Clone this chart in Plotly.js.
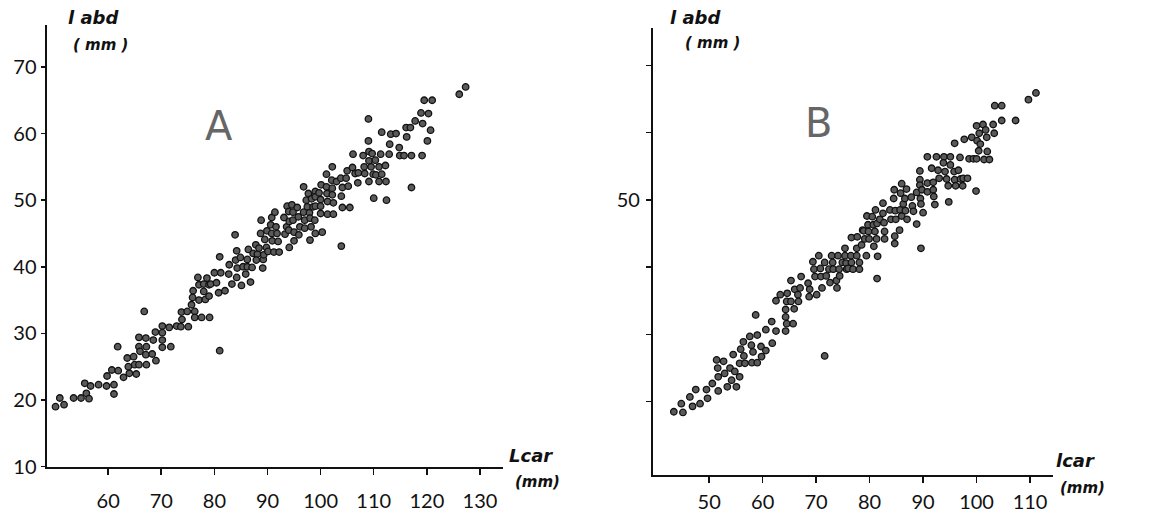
<!DOCTYPE html>
<html>
<head>
<meta charset="utf-8">
<script src="https://cdn.plot.ly/plotly-3.0.1.min.js"></script>
<style>html,body{margin:0;padding:0;background:#fff;}#chart{width:1150px;height:515px;}</style>
</head>
<body>
<div id="chart"></div>
<script>
// Panel A: Lcar (mm) vs labd (mm)
const aLcar = [50.1,50.9,51.7,53.5,54.9,55.6,55.9,56.4,56.7,58.2,59.7,59.8,61.1,61.1,60.7,61.8,61.9,62.9,63.6,63.8,
64.0,64.8,65.0,65.3,65.8,65.8,65.8,66.0,67.1,67.2,67.1,67.2,66.8,68.5,68.3,69.0,68.9,70.2,70.2,70.2,
70.2,71.5,71.8,72.9,73.7,73.9,73.8,74.9,75.1,75.7,75.9,76.0,76.3,76.3,76.9,77.1,77.1,77.6,78.0,78.0,
78.3,78.6,79.0,79.1,79.0,79.3,80.0,80.4,80.8,81.0,81.2,81.0,82.0,82.7,82.8,83.3,83.9,84.2,84.2,84.0,
84.3,84.9,85.1,85.4,85.9,86.2,86.4,86.2,86.8,87.1,87.3,87.8,88.1,87.9,88.4,88.8,88.7,89.1,89.2,89.3,
89.5,89.9,89.8,90.1,90.6,90.8,90.8,90.9,91.2,91.4,91.6,91.8,92.0,92.2,93.1,93.3,93.6,93.7,94.0,94.1,
94.0,94.1,94.6,94.8,94.8,95.0,95.0,95.6,95.8,95.9,96.1,96.8,96.8,97.0,97.0,97.3,97.5,97.7,97.9,98.0,
98.0,98.2,98.3,98.6,99.0,99.0,99.0,98.9,99.0,99.7,100.0,100.0,100.0,100.1,100.3,101.1,101.1,101.2,101.3,101.3,
102.2,102.1,102.2,102.2,102.4,102.4,103.0,103.8,103.9,104.1,104.1,103.9,104.8,105.0,105.2,105.5,106.1,106.0,106.5,107.0,
107.1,108.0,108.2,108.3,109.0,109.0,109.1,109.1,109.1,109.5,109.7,109.9,110.0,110.3,110.4,111.0,111.0,111.3,111.5,111.5,
112.2,112.3,112.4,112.9,113.0,113.2,114.2,114.8,114.9,115.7,116.1,116.2,116.9,117.1,117.1,117.8,118.9,119.1,119.2,119.5,
120.1,120.3,120.7,121.0,126.1,127.3];
const aLabd = [19.0,20.3,19.3,20.3,20.3,22.5,21.0,20.2,22.1,22.3,22.1,23.6,22.3,20.9,24.5,28.0,24.4,23.4,26.3,25.0,
24.0,26.5,25.3,23.9,25.3,28.0,29.4,27.3,29.3,28.0,26.8,25.3,33.3,29.0,26.9,25.9,30.2,31.1,30.1,29.0,
27.9,30.9,28.0,31.1,31.0,32.1,33.2,33.3,31.0,34.3,35.4,36.4,33.3,32.4,38.4,37.3,35.0,32.4,37.4,36.3,
35.1,38.3,37.3,32.4,35.6,37.4,39.1,37.6,36.1,41.5,39.1,27.4,36.4,38.9,40.3,37.4,44.8,38.4,42.4,41.0,
39.8,41.4,37.2,40.0,38.9,40.0,42.6,41.1,37.7,39.9,42.0,43.3,41.9,41.0,42.8,47.0,45.0,39.8,41.1,41.8,
44.1,45.4,42.9,42.3,46.3,47.4,45.0,43.9,42.2,48.2,46.0,45.0,43.8,42.2,47.4,44.9,46.0,49.1,48.3,46.8,
45.5,42.9,49.3,48.2,47.0,45.2,43.9,48.9,47.5,44.8,46.0,52.0,48.2,47.0,45.8,50.0,49.0,51.0,48.1,47.3,
44.0,46.0,50.2,49.0,51.3,50.5,49.1,47.0,45.0,51.1,50.1,49.1,48.0,52.3,45.2,53.9,52.0,51.0,49.8,47.9,
55.0,53.0,51.8,50.8,49.6,47.9,52.8,53.3,50.6,51.9,48.9,43.1,53.3,54.4,52.1,48.9,56.9,54.9,54.0,52.6,
54.1,56.7,55.0,54.0,58.9,62.2,57.3,55.9,52.8,55.0,57.0,53.9,50.3,56.0,53.8,55.0,52.8,56.9,53.9,60.2,
55.2,52.8,50.0,56.9,58.4,59.9,60.0,57.9,56.7,56.7,60.9,59.5,60.9,56.7,51.9,61.9,63.1,56.7,61.5,65.0,
58.9,63.0,60.5,65.0,65.9,67.0];

// Panel B: lcar (mm) vs labd (mm)
const bLcar = [43.4,44.8,45.1,46.4,46.9,47.5,48.3,49.5,49.7,50.6,51.4,51.6,51.7,51.7,52.7,52.9,53.4,53.9,54.2,54.5,
54.8,55.1,55.7,55.9,55.7,56.4,56.5,56.7,57.6,57.9,58.0,58.2,58.7,59.0,59.0,59.7,59.8,60.6,60.6,61.7,
61.8,62.5,62.5,63.3,64.3,64.3,64.3,64.5,64.5,64.6,65.3,65.3,65.7,65.9,66.0,66.6,66.7,67.0,67.2,68.5,
68.7,68.8,69.4,69.6,69.8,70.1,70.5,70.8,70.9,71.1,71.6,71.6,71.9,72.4,72.6,72.9,73.1,73.2,73.8,73.9,
74.1,74.3,74.4,74.9,75.4,75.4,75.6,75.7,76.0,76.5,76.6,76.6,76.9,77.6,77.6,77.7,78.1,78.1,78.5,78.7,
78.9,79.1,79.4,79.5,79.7,79.8,79.9,80.5,80.7,80.8,81.0,81.1,81.3,81.4,81.4,81.5,81.9,82.5,82.5,82.7,
82.8,82.8,83.8,84.0,84.6,84.5,84.7,84.7,84.8,84.9,85.6,85.7,85.8,86.0,86.0,86.3,86.6,86.7,86.9,87.0,
87.8,88.0,88.2,88.8,88.8,89.4,89.4,89.4,89.5,89.6,89.6,89.8,90.0,90.8,90.8,90.8,91.6,91.9,91.9,92.0,
92.2,92.5,92.8,93.0,93.9,93.8,94.1,94.4,94.7,94.8,95.1,95.1,95.8,95.9,96.1,96.6,96.9,97.0,97.4,97.5,
98.3,95.9,97.7,98.6,99.1,99.4,99.9,100.1,100.0,100.0,100.4,100.5,100.7,101.2,101.4,101.7,101.9,102.0,102.4,103.1,
103.3,103.4,104.7,104.7,107.3,109.7,111.1];
const bLabd = [18.5,19.7,18.4,20.7,19.3,21.8,19.7,21.8,20.5,22.7,26.2,25.0,23.7,21.6,26.0,24.2,22.2,25.0,23.2,27.0,
24.5,22.2,23.7,27.8,25.7,28.9,26.8,25.7,29.7,28.4,25.8,27.4,32.9,29.9,25.8,28.2,26.7,30.7,27.6,31.9,
28.7,35.0,30.5,35.9,33.7,32.6,30.5,34.9,31.6,36.1,38.0,34.9,31.6,33.8,36.7,35.9,34.9,36.9,38.6,37.6,
35.6,36.7,40.8,39.7,38.6,35.9,41.7,39.8,38.6,36.9,40.7,26.8,38.7,39.7,37.7,41.7,40.7,39.7,38.0,36.9,
41.7,39.7,38.7,40.7,42.8,41.7,40.6,39.7,39.8,41.7,40.7,44.4,39.7,41.7,42.8,44.5,40.7,39.7,43.3,45.5,
45.4,44.2,41.7,47.6,46.3,45.3,44.2,47.5,46.3,43.1,45.3,48.5,44.2,38.3,46.5,41.6,47.1,49.5,48.0,46.6,
45.3,44.2,48.5,47.1,51.5,50.2,44.6,43.5,48.4,47.1,45.5,48.5,51.0,52.4,47.6,49.4,50.2,48.4,51.6,47.1,
50.4,49.1,48.3,46.4,51.1,54.3,53.0,52.2,50.2,49.4,42.8,51.5,48.1,56.4,52.5,51.2,54.7,52.6,51.5,50.5,
49.3,56.4,54.4,53.2,56.4,55.5,54.2,53.1,52.1,49.7,55.2,56.4,54.2,53.0,52.1,54.4,56.3,53.1,52.1,53.2,
53.2,58.4,59.0,56.1,59.3,56.1,51.3,58.8,56.1,61.0,57.3,59.9,58.3,61.2,56.0,60.4,59.3,57.2,56.0,61.2,
59.9,64.0,64.0,61.8,61.8,64.9,65.9];

const aTicksX = [60,70,80,90,100,110,120,130];
const aTicksY = [10,20,30,40,50,60,70];
const bTicksX = [50,60,70,80,90,100,110];
const bTicksY = [20,30,40,50,60,70];
const bTickTextY = ['','','','50','',''];

const tickFont = {family:'Lato, "DejaVu Sans", sans-serif', size:20, color:'#111'};
const titleFont = {family:'"DejaVu Sans", sans-serif', size:18, color:'#111'};
const mmFont = {family:'"DejaVu Sans", sans-serif', size:15, color:'#111'};

const marker = {size:6.5, color:'#5a5a5a', line:{color:'#111', width:1.3}, symbol:'circle'};

const traces = [
  {x:aLcar, y:aLabd, type:'scatter', mode:'markers', marker:marker, xaxis:'x', yaxis:'y', hoverinfo:'x+y'},
  {x:bLcar, y:bLabd, type:'scatter', mode:'markers', marker:marker, xaxis:'x2', yaxis:'y2', hoverinfo:'x+y'}
];

const axBase = {showgrid:false, zeroline:false, showline:true, linecolor:'#111', linewidth:2,
  ticks:'outside', tickcolor:'#111', tickwidth:1.5, ticklen:5, tickfont:tickFont, tickmode:'array'};

const layout = {
  width:1150, height:515, showlegend:false,
  margin:{l:0,r:0,t:0,b:0},
  paper_bgcolor:'#fff', plot_bgcolor:'#fff',
  xaxis: Object.assign({}, axBase, {domain:[0.0409,0.4377], range:[48.5,134.4], anchor:'y',
    tickvals:aTicksX, ticktext:aTicksX.map(String), ticklen:6, ticklabelstandoff:9}),
  yaxis: Object.assign({}, axBase, {domain:[0.0940,0.9515], range:[10,76.3], anchor:'x',
    tickvals:aTicksY, ticktext:aTicksY.map(String), ticklen:4, ticklabelstandoff:0, linewidth:2.5}),
  xaxis2: Object.assign({}, axBase, {domain:[0.5678,0.9157], range:[39.5,114.3], anchor:'y2',
    tickvals:bTicksX, ticktext:bTicksX.map(String), ticklen:6, ticklabelstandoff:2}),
  yaxis2: Object.assign({}, axBase, {domain:[0.0777,0.9450], range:[9.1,75.5], anchor:'x2',
    tickvals:bTicksY, ticktext:bTickTextY, ticklen:5, ticklabelstandoff:2}),
  annotations: [
    {xref:'paper', yref:'paper', x:93/1150, y:1-17/515, text:'<b><i>l abd</i></b>', showarrow:false, font:titleFont, xanchor:'center', yanchor:'middle'},
    {xref:'paper', yref:'paper', x:100/1150, y:1-45/515, text:'<b><i>( mm )</i></b>', showarrow:false, font:mmFont, xanchor:'center', yanchor:'middle'},
    {xref:'paper', yref:'paper', x:219/1150, y:1-126/515, text:'A', showarrow:false, font:{family:'"DejaVu Sans", sans-serif', size:40, color:'#666'}, xanchor:'center', yanchor:'middle'},
    {xref:'paper', yref:'paper', x:531/1150, y:1-455/515, text:'<b><i>Lcar</i></b>', showarrow:false, font:titleFont, xanchor:'center', yanchor:'middle'},
    {xref:'paper', yref:'paper', x:537/1150, y:1-482/515, text:'<b><i>(mm)</i></b>', showarrow:false, font:mmFont, xanchor:'center', yanchor:'middle'},
    {xref:'paper', yref:'paper', x:695/1150, y:1-17/515, text:'<b><i>l abd</i></b>', showarrow:false, font:titleFont, xanchor:'center', yanchor:'middle'},
    {xref:'paper', yref:'paper', x:712/1150, y:1-43/515, text:'<b><i>( mm )</i></b>', showarrow:false, font:mmFont, xanchor:'center', yanchor:'middle'},
    {xref:'paper', yref:'paper', x:818/1150, y:1-123/515, text:'B', showarrow:false, font:{family:'"DejaVu Sans", sans-serif', size:40, color:'#666'}, xanchor:'center', yanchor:'middle'},
    {xref:'paper', yref:'paper', x:1075/1150, y:1-460/515, text:'<b><i>lcar</i></b>', showarrow:false, font:titleFont, xanchor:'center', yanchor:'middle'},
    {xref:'paper', yref:'paper', x:1082/1150, y:1-488/515, text:'<b><i>(mm)</i></b>', showarrow:false, font:mmFont, xanchor:'center', yanchor:'middle'}
  ]
};

Plotly.newPlot('chart', traces, layout, {displayModeBar:false, staticPlot:true});
</script>
</body>
</html>
